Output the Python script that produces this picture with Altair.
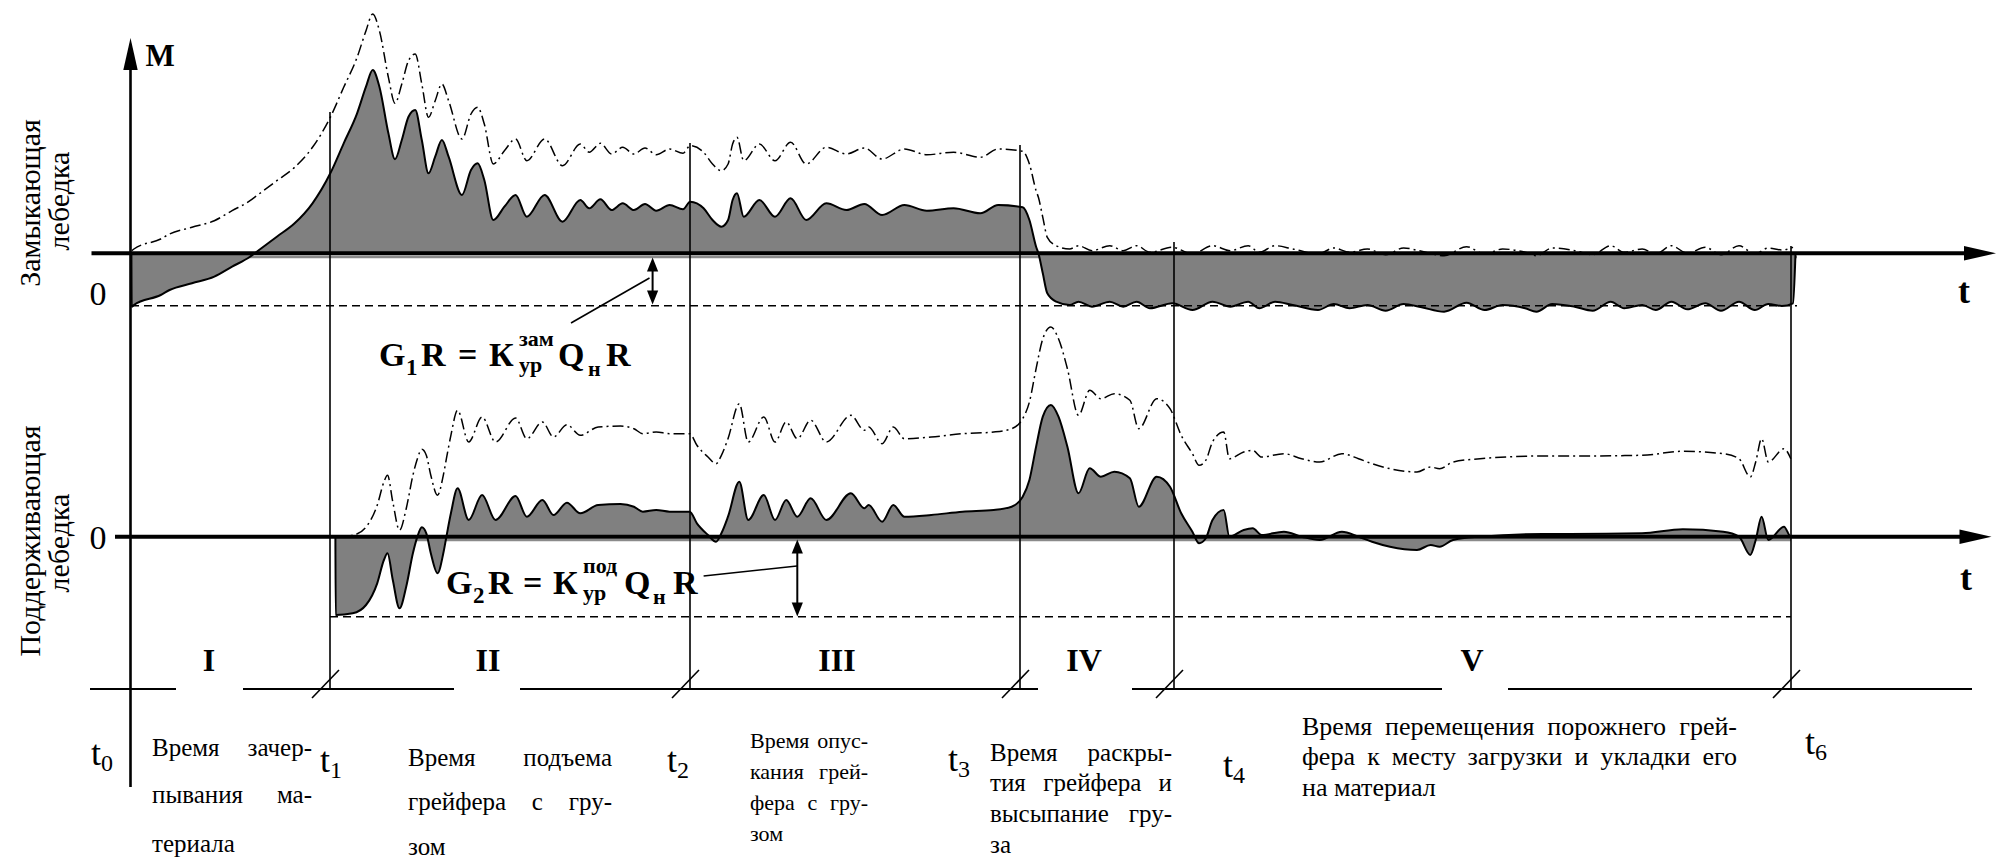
import altair as alt
import pandas as pd

# ---------------- values (reference pixel units) ----------------
# closing winch (Замыкающая лебедка): net torque M - G1R, measured up from its t-axis
top_t = [131.7, 133.9, 160.7, 169.6, 192.0, 214.3, 232.1, 250.0, 256.7, 276.8,
         294.6, 312.5, 330.3, 343.7, 357.1, 366.0, 372.7, 379.4, 388.4, 395.0,
         401.8, 408.5, 415.2, 421.8, 428.5, 435.2, 441.9, 448.6, 462.0, 471.0,
         477.6, 484.3, 493.3, 504.4, 515.6, 526.8, 544.6, 562.5, 580.3, 589.2,
         600.4, 611.6, 622.7, 633.9, 645.0, 656.2, 669.6, 683.0, 690.2, 703.6,
         712.5, 721.4, 728.1, 732.6, 737.0, 743.7, 759.4, 775.0, 790.6, 806.2,
         826.3, 846.4, 864.3, 882.1, 904.4, 926.8, 953.6, 980.3, 998.2, 1022.7,
         1029.4, 1036.1, 1038.4, 1042.8, 1047.3, 1056.2, 1069.6, 1078.5, 1092.0, 1109.8,
         1123.2, 1136.6, 1150.0, 1172.3, 1192.4, 1212.5, 1230.3, 1248.2, 1259.3, 1275.0,
         1292.8, 1318.0, 1333.8, 1349.5, 1367.5, 1385.6, 1403.6, 1421.6, 1444.1, 1466.6,
         1484.6, 1502.6, 1525.2, 1536.4, 1552.2, 1574.7, 1592.7, 1610.7, 1624.2, 1642.2,
         1655.7, 1671.5, 1687.3, 1705.3, 1721.0, 1739.0, 1754.8, 1768.3, 1781.8, 1793.0]
top_m = [-53.4, -51.7, -41.7, -36.7, -30.0, -23.4, -13.4, -3.4, 1.6, 16.6,
         30.0, 50.0, 80.0, 110.0, 140.0, 166.6, 183.3, 166.6, 120.0, 94.0,
         113.3, 136.6, 143.3, 113.3, 80.0, 96.6, 113.3, 96.6, 58.3, 83.3,
         90.0, 73.3, 33.3, 46.6, 58.3, 36.6, 58.3, 31.6, 53.3, 45.0,
         54.0, 43.3, 50.0, 43.3, 49.3, 42.6, 48.3, 44.0, 51.6, 45.0,
         33.3, 26.6, 33.3, 53.3, 60.0, 36.6, 53.3, 36.6, 55.0, 33.3,
         50.0, 43.3, 49.3, 38.3, 48.3, 42.6, 45.0, 40.0, 48.3, 46.0,
         33.3, 6.6, 0.0, -20.0, -40.0, -48.4, -51.7, -48.4, -53.4, -48.4,
         -53.4, -48.4, -55.0, -50.0, -56.7, -48.4, -53.4, -48.4, -55.0, -48.4,
         -51.7, -56.7, -50.7, -55.0, -51.7, -57.4, -50.7, -54.0, -58.4, -49.4,
         -56.7, -51.7, -55.0, -58.4, -50.7, -53.4, -57.4, -48.4, -55.0, -51.7,
         -56.7, -48.4, -56.0, -50.0, -57.4, -48.4, -56.7, -50.7, -52.7, -50.0]

# supporting winch (Поддерживающая лебедка): net torque M - G2R
bot_t = [335.7, 352.7, 366.0, 377.2, 383.9, 387.5, 392.8, 399.5, 406.2, 412.9,
         417.4, 421.8, 426.3, 430.8, 437.5, 443.3, 446.4, 450.9, 457.6, 468.7,
         482.1, 495.5, 515.6, 526.8, 542.4, 553.5, 566.9, 580.3, 598.2, 620.5,
         633.9, 642.8, 656.2, 669.6, 689.7, 696.9, 708.0, 716.0, 721.4, 728.0,
         739.3, 748.2, 763.8, 775.0, 786.2, 797.3, 810.7, 826.3, 850.9, 864.3,
         868.7, 882.1, 893.3, 904.4, 931.2, 962.5, 993.7, 1011.6, 1022.7, 1029.4,
         1036.1, 1042.8, 1050.9, 1058.5, 1067.4, 1078.5, 1089.7, 1100.9, 1114.3, 1129.9,
         1138.8, 1156.7, 1170.0, 1181.2, 1192.4, 1199.1, 1205.8, 1212.5, 1223.7, 1229.4,
         1243.7, 1252.7, 1261.6, 1283.9, 1301.7, 1319.6, 1341.9, 1358.5, 1372.0, 1390.0,
         1417.0, 1430.6, 1439.6, 1453.0, 1480.0, 1543.0, 1570.0, 1642.0, 1682.8, 1723.3,
         1739.0, 1750.3, 1755.7, 1761.6, 1768.3, 1784.0, 1790.8]
bot_m = [-78.3, -76.6, -68.3, -46.6, -23.3, -16.6, -43.3, -71.6, -50.0, -16.6,
         0.0, 9.4, 3.4, -16.6, -36.6, -16.6, 0.0, 23.4, 48.4, 16.7,
         41.7, 16.7, 40.7, 20.0, 36.7, 21.7, 34.0, 23.4, 31.7, 32.7,
         30.0, 25.0, 26.7, 25.0, 25.0, 13.4, 1.7, -5.0, 3.4, 20.0,
         55.0, 16.7, 41.7, 16.7, 36.7, 20.0, 38.4, 16.7, 43.4, 28.4,
         31.7, 15.0, 31.7, 20.0, 21.7, 25.0, 26.7, 30.0, 40.0, 56.7,
         90.0, 120.0, 131.7, 120.0, 90.0, 43.4, 68.4, 60.0, 65.0, 58.4,
         30.0, 60.0, 50.0, 23.4, 5.0, -6.6, -1.6, 16.7, 26.7, 0.0,
         6.7, 8.4, 1.7, 5.0, 0.0, -3.3, 5.0, 0.0, -5.0, -10.0,
         -13.3, -8.3, -10.0, -3.3, 0.0, 2.7, 2.7, 3.4, 7.4, 5.0,
         0.0, -18.3, -3.3, 20.0, -3.3, 10.0, 0.0]

TOP_ZERO, BOT_ZERO = 253.3, 536.7        # t-axes of the two winches
G1R, G2R = 52.4, 80.0                    # static load levels below the axes
TOP_SHIFT, BOT_SHIFT = 56.0, 78.0        # total torque curve above the net curve

t_pos = [330, 690, 1020, 1174, 1791]     # t1, t2, t3, t4, t6
t_top = [112, 143, 145, 242, 246]
PERIOD_Y = 689
period_segments = [(90, 176), (243, 454), (520, 1038), (1132, 1442), (1508, 1972)]
period_names = ["I", "II", "III", "IV", "V"]
period_x = [209, 488, 837, 1084, 1472]

t_labels = [("0", 91, 765), ("1", 320, 772), ("2", 667, 772), ("3", 948, 771),
            ("4", 1223, 777), ("6", 1805, 754)]

blocks = [
    dict(left=152, right=312, size=25, lines=["Время зачер-", "пывания ма-", "териала"], base=[756, 803, 852]),
    dict(left=408, right=612, size=25, lines=["Время подъема", "грейфера с гру-", "зом"], base=[766, 810, 855]),
    dict(left=750, right=868, size=22, lines=["Время опус-", "кания грей-", "фера с гру-", "зом"], base=[748, 779, 810, 841]),
    dict(left=990, right=1172, size=25, lines=["Время раскры-", "тия грейфера и", "высыпание гру-", "за"], base=[761, 791, 822, 853]),
    dict(left=1302, right=1737, size=26, lines=["Время перемещения порожнего грей-",
                                                "фера к месту загрузки и укладки его", "на материал"], base=[735, 765, 796]),
]

formula1 = [("G", 379, 366, 34), ("1", 406, 375, 23), ("R", 421, 366, 34), ("=", 458, 366, 34),
            ("К", 489, 366, 34), ("зам", 519, 346, 22), ("ур", 519, 372, 22), ("Q", 558, 366, 34),
            ("н", 588, 376, 22), ("R", 606, 366, 34)]
formula2 = [("G", 446, 594, 34), ("2", 473, 603, 23), ("R", 488, 594, 34), ("=", 523, 594, 34),
            ("К", 553, 594, 34), ("под", 583, 573, 22), ("ур", 583, 600, 22), ("Q", 624, 594, 34),
            ("н", 653, 604, 22), ("R", 673, 594, 34)]

# ---------------- chart ----------------
W, H = 1990, 854
XS = alt.Scale(domain=[8, 1998], nice=False, zero=False)
YS = alt.Scale(domain=[8, 862], nice=False, zero=False, reverse=True)
FONT = "Liberation Serif, Times New Roman, DejaVu Serif, serif"


def ex(f="x"):
    return alt.X(f"{f}:Q", scale=XS, axis=None)


def ey(f="y"):
    return alt.Y(f"{f}:Q", scale=YS, axis=None, stack=None)


def rules(rows, width=1.6, color="black", dash=None):
    df = pd.DataFrame(rows, columns=["x", "y", "x2", "y2"])
    kw = dict(strokeWidth=width, color=color)
    if dash:
        kw["strokeDash"] = dash
    return alt.Chart(df).mark_rule(**kw).encode(x=ex(), y=ey(), x2="x2:Q", y2="y2:Q")


def heads(rows, shape, size):
    df = pd.DataFrame(rows, columns=["x", "y"])
    return alt.Chart(df).mark_point(shape=shape, size=size, filled=True, color="black",
                                    opacity=1, strokeWidth=0).encode(x=ex(), y=ey())


def texts(rows, align="left", baseline="alphabetic", weight="normal", angle=0):
    df = pd.DataFrame(rows, columns=["text", "x", "y", "size"])
    return alt.Chart(df).mark_text(font=FONT, align=align, baseline=baseline, fontWeight=weight,
                                   angle=angle, color="black").encode(
        x=ex(), y=ey(), text="text:N", size=alt.Size("size:Q", scale=None))


def curve_layers(ts, ms, zero, shift, x_end):
    xs = [ts[0] - 0.3] + ts + [x_end]
    mm = [0.0] + ms + [0.0]
    n = len(xs)
    df = pd.DataFrame({"x": xs, "y": [zero - m for m in mm], "y0": [zero] * n, "i": list(range(n))})
    area = alt.Chart(df).mark_area(fill="#808080", fillOpacity=1, strokeWidth=0,
                                   interpolate="monotone").encode(
        x=ex(), y=ey(), y2=alt.Y2("y0:Q"))
    outline = alt.Chart(df).mark_line(color="black", strokeWidth=2, interpolate="monotone").encode(
        x=ex(), y=ey(), order=alt.Order("i:Q"))
    dd = pd.DataFrame({"x": ts, "y": [zero - (m + shift) for m in ms], "i": list(range(len(ts)))})
    dashed = alt.Chart(dd).mark_line(color="black", strokeWidth=1.5, strokeDash=[11, 4, 2, 4],
                                     interpolate="monotone").encode(
        x=ex(), y=ey(), order=alt.Order("i:Q"))
    return [area, outline, dashed]


CW = {'В': 0.667, 'а': 0.444, 'б': 0.5, 'в': 0.469, 'г': 0.406, 'д': 0.5, 'е': 0.444, 'ж': 0.698,
      'з': 0.396, 'и': 0.535, 'й': 0.535, 'к': 0.479, 'л': 0.5, 'м': 0.635, 'н': 0.535, 'о': 0.5,
      'п': 0.535, 'р': 0.5, 'с': 0.444, 'т': 0.427, 'у': 0.5, 'ф': 0.656, 'х': 0.5, 'ц': 0.535,
      'ч': 0.5, 'ш': 0.77, 'щ': 0.77, 'ъ': 0.5, 'ы': 0.687, 'ь': 0.46, 'э': 0.44, 'ю': 0.74,
      'я': 0.49, '-': 0.333}

left_rows, right_rows = [], []
for b in blocks:
    n = len(b["lines"])
    fs = b["size"]
    for k, (line, yb) in enumerate(zip(b["lines"], b["base"])):
        words = line.split()
        if k == n - 1 or len(words) == 1:
            left_rows.append((line, b["left"], yb, fs))
            continue
        widths = [sum(CW.get(c, 0.5) for c in w) * fs for w in words]
        gap = (b["right"] - b["left"] - sum(widths)) / (len(words) - 1)
        x = b["left"]
        for j, (w, wd) in enumerate(zip(words, widths)):
            if j == len(words) - 1:
                right_rows.append((w, b["right"], yb, fs))
            else:
                left_rows.append((w, x, yb, fs))
            x += wd + gap

layers = []
# gray bands under the axes
layers.append(rules([(131, 257, 1797, 257), (336, 540, 1791, 540)], width=2.5, color="#8a8a8a"))
layers += curve_layers(top_t, top_m, TOP_ZERO, TOP_SHIFT, 1795.5)
layers += curve_layers(bot_t, bot_m, BOT_ZERO, BOT_SHIFT, 1792.0)

# static load levels
layers.append(rules([(131, TOP_ZERO + G1R, 1797, TOP_ZERO + G1R),
                     (330, BOT_ZERO + G2R, 1791, BOT_ZERO + G2R)], width=1.6, dash=[8, 5]))
# thick t-axes
layers.append(rules([(91.5, TOP_ZERO, 1966, TOP_ZERO), (115, BOT_ZERO, 1962, BOT_ZERO)], width=4))
# M axis
layers.append(rules([(130.5, 62, 130.5, 787)], width=2.6))
# vertical time marks
layers.append(rules([(x, yt, x, PERIOD_Y) for x, yt in zip(t_pos, t_top)], width=1.6))
# period line and slashes
layers.append(rules([(a, PERIOD_Y, b, PERIOD_Y) for a, b in period_segments], width=2))
layers.append(rules([(x - 18, 698, x + 9, 670) for x in t_pos], width=1.6))
# leader lines and double arrows
layers.append(rules([(571, 323, 649.5, 278), (703.6, 576, 797, 566)], width=1.6))
layers.append(rules([(652.6, 264, 652.6, 298), (797.3, 546, 797.3, 609)], width=2))
layers.append(heads([(652.6, 264.5), (797.3, 546.5)], "M0,-1L0.8,1L-0.8,1Z", 196))
layers.append(heads([(652.6, 297.5), (797.3, 609.5)], "M0,1L0.8,-1L-0.8,-1Z", 196))
# axis arrowheads
layers.append(heads([(130.5, 54)], "M0,-1L0.45,1L-0.45,1Z", 1024))
layers.append(heads([(1980, TOP_ZERO), (1975.5, BOT_ZERO)], "M1,0L-1,0.45L-1,-0.45Z", 1024))

# texts
layers.append(texts([("Замыкающая", 31, 203, 30), ("лебедка", 60, 201, 30),
                     ("Поддерживающая", 31, 541, 30), ("лебедка", 60, 543, 30)],
                    align="center", baseline="middle", angle=270))
layers.append(texts([("0", 98, 305, 34), ("0", 98, 549, 34)], align="center"))
layers.append(texts([("M", 160, 66, 31), ("t", 1964, 303, 36), ("t", 1966, 590, 36)],
                    align="center", weight="bold"))
layers.append(texts([(n, x, 671, 32) for n, x in zip(period_names, period_x)],
                    align="center", weight="bold"))
t_rows = []
for sub, x, yb in t_labels:
    t_rows.append(("t", x, yb, 36))
    t_rows.append((sub, x + 10, yb + 6, 24))
layers.append(texts(t_rows))
layers.append(texts(left_rows))
layers.append(texts(right_rows, align="right"))
layers.append(texts([(s, x, y, z) for s, x, y, z in formula1 + formula2], weight="bold"))

chart = alt.layer(*layers).properties(
    width=W, height=H, autosize=alt.AutoSizeParams(type="none"), padding=0
).configure_view(strokeWidth=0)

chart.save("out.html", embed_options={"renderer": "svg", "actions": False})
